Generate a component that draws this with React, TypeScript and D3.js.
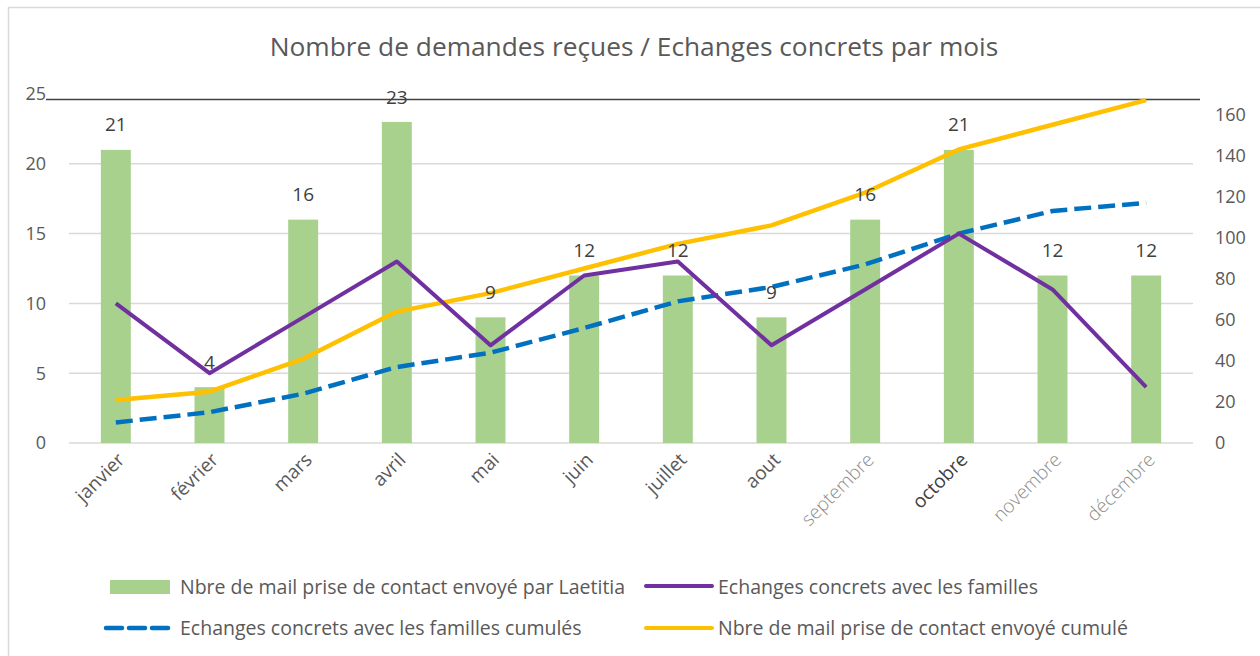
import * as d3 from 'd3';
import React from 'react';

const WIDTH = 1260;
const HEIGHT = 656;

const months = ['janvier', 'février', 'mars', 'avril', 'mai', 'juin', 'juillet', 'aout', 'septembre', 'octobre', 'novembre', 'décembre'];
const mailsSent = [21, 4, 16, 23, 9, 12, 12, 9, 16, 21, 12, 12];
const exchanges = [10, 5, 9, 13, 7, 12, 13, 7, 11, 15, 11, 4];
const exchangesCumul = [10, 15, 24, 37, 44, 56, 69, 76, 87, 102, 113, 117];
const mailsCumul = [21, 25, 41, 64, 73, 85, 97, 106, 122, 143, 155, 167];
const leftTicks = [0, 5, 10, 15, 20, 25];
const rightTicks = [0, 20, 40, 60, 80, 100, 120, 140, 160];

// months whose axis label looks lighter / darker in the original
const lightMonths = ['septembre', 'novembre', 'décembre'];

const FONT = "'Open Sans', sans-serif";
const TEXT = '#595959';

const COLORS = {
  bar: '#a9d18e',
  exchanges: '#7030a0',
  exchangesCumul: '#0070c0',
  mailsCumul: '#ffc000',
};

const margin = { left: 69, right: 1193, top: 94, bottom: 443 };

const App: React.FC = () => {
  const x = d3.scaleBand().domain(months).range([margin.left, margin.right]).paddingInner(0.68).paddingOuter(0.34);
  const yL = d3.scaleLinear().domain([0, 25]).range([margin.bottom, margin.top]);
  const yR = d3.scaleLinear().domain([0, 170]).range([margin.bottom, margin.top]);
  const cx = (m: string) => (x(m) || 0) + x.bandwidth() / 2;

  const lineL = d3.line<number>().x((_, i) => cx(months[i])).y(d => yL(d));
  const lineR = d3.line<number>().x((_, i) => cx(months[i])).y(d => yR(d));

  return (
    <svg width={WIDTH} height={HEIGHT} style={{ position: 'absolute', left: 0, top: 0 }} fontFamily={FONT}>
      <rect x={0} y={0} width={WIDTH} height={HEIGHT} fill="#fff" />
      <rect x={8.5} y={7.5} width={1400} height={800} fill="none" stroke="#d9d9d9" strokeWidth={1.5} />

      <text x={634} y={47} dy="0.35em" textAnchor="middle" fontSize={26.3} fill={TEXT}>
        Nombre de demandes reçues / Echanges concrets par mois
      </text>

      {/* gridlines */}
      {leftTicks.slice(0, -1).map(t => (
        <line key={t} x1={margin.left} x2={margin.right} y1={yL(t)} y2={yL(t)} stroke="#d9d9d9" strokeWidth={1.5} />
      ))}
      <line x1={46} x2={1200} y1={99.5} y2={99.5} stroke="#404040" strokeWidth={1.5} />

      {/* left axis */}
      {leftTicks.map(t => (
        <text key={t} x={46} y={yL(t)} dy="0.35em" textAnchor="end" fontSize={18} fill={TEXT}>
          {t}
        </text>
      ))}
      {/* right axis */}
      {rightTicks.map(t => (
        <text key={t} x={1215} y={yR(t)} dy="0.35em" fontSize={18} fill={TEXT}>
          {t}
        </text>
      ))}

      {/* bars */}
      {mailsSent.map((v, i) => (
        <rect key={i} x={x(months[i])} y={yL(v)} width={x.bandwidth()} height={yL(0) - yL(v)} fill={COLORS.bar} />
      ))}

      {/* lines */}
      <path d={lineR(mailsCumul) || ''} fill="none" stroke={COLORS.mailsCumul} strokeWidth={4.5} strokeLinejoin="round" />
      <path d={lineR(exchangesCumul) || ''} fill="none" stroke={COLORS.exchangesCumul} strokeWidth={4.5} strokeDasharray="17 7" />
      <path d={lineL(exchanges) || ''} fill="none" stroke={COLORS.exchanges} strokeWidth={4} strokeLinejoin="round" />

      {/* data labels */}
      {mailsSent.map((v, i) => (
        <text key={i} x={cx(months[i])} y={yL(v) - 25} dy="0.35em" textAnchor="middle" fontSize={19} fill="#404040">
          {v}
        </text>
      ))}

      {/* month labels */}
      {months.map(m => (
        <text
          key={m}
          transform={`translate(${cx(m) + 10},${461}) rotate(-45)`}
          textAnchor="end"
          fontSize={19}
          fill={lightMonths.includes(m) ? '#8c8c8c' : m === 'octobre' ? '#404040' : TEXT}
          fontWeight={lightMonths.includes(m) ? 300 : 400}
        >
          {m}
        </text>
      ))}

      {/* legend */}
      <rect x={110} y={580} width={60} height={14} fill={COLORS.bar} />
      <text x={180} y={587} dy="0.35em" fontSize={19.5} fill={TEXT}>Nbre de mail prise de contact envoyé par Laetitia</text>
      <line x1={646} x2={712} y1={586} y2={586} stroke={COLORS.exchanges} strokeWidth={4} strokeLinecap="round" />
      <text x={718} y={587} dy="0.35em" fontSize={19.5} fill={TEXT}>Echanges concrets avec les familles</text>

      <line x1={106} x2={168} y1={628} y2={628} stroke={COLORS.exchangesCumul} strokeWidth={4.5} strokeDasharray="16 7" strokeLinecap="round" />
      <text x={180} y={628} dy="0.35em" fontSize={19.5} fill={TEXT}>Echanges concrets avec les familles cumulés</text>
      <line x1={646} x2={712} y1={628} y2={628} stroke={COLORS.mailsCumul} strokeWidth={4} strokeLinecap="round" />
      <text x={718} y={628} dy="0.35em" fontSize={19.5} fill={TEXT}>Nbre de mail prise de contact envoyé cumulé</text>
    </svg>
  );
};

export default App;
